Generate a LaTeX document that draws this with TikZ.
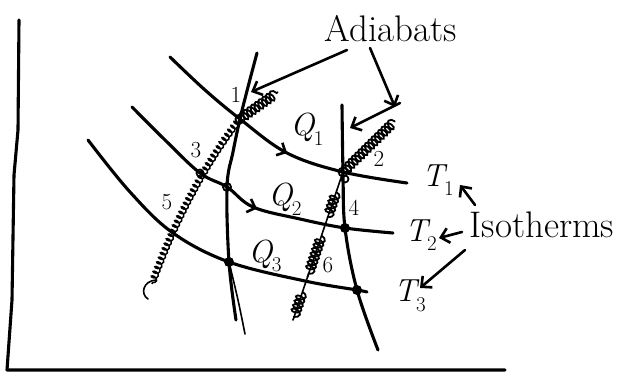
\documentclass[tikz,border=0pt]{standalone}
\usepackage{fontspec}
\usetikzlibrary{arrows.meta,decorations.pathmorphing,decorations.markings,calc}
\newcommand{\symsub}[2]{{\itshape #1}\kern-0.5pt\raisebox{-0.3em}{\fontsize{21}{21}\selectfont #2}}
\begin{document}
\begin{tikzpicture}[x=1pt,y=-1pt,
  curve/.style={line width=3.1pt, line cap=round, line join=round},
  thinline/.style={line width=1.6pt, line cap=round},
  irr/.style={line width=1.5pt, decorate, decoration={coil, amplitude=3.2pt, segment length=5pt, aspect=0.6}},
  irrwide/.style={line width=1.8pt, decorate, decoration={coil, amplitude=4.8pt, segment length=4.6pt, aspect=0.6}},
  numlbl/.style={inner sep=0pt, font=\fontsize{23}{23}\selectfont},
  qlbl/.style={inner sep=0pt, font=\fontsize{32}{32}\selectfont},
  tlbl/.style={inner sep=0pt, font=\fontsize{32}{32}\selectfont},
  bigword/.style={inner sep=0pt, font=\fontsize{37}{37}\selectfont},
  pointer/.style={line width=2.6pt, line cap=round, -{Straight Barb[length=8pt,width=15pt,line width=2.6pt]}},
  opendot/.style={circle, draw, line width=1.8pt, minimum size=9pt, inner sep=0pt},
  fulldot/.style={circle, fill, minimum size=10pt, inner sep=0pt},
  flowarrow/.style={postaction={decorate, decoration={markings, mark=at position #1 with {\arrow{Straight Barb[length=7pt,width=14pt,line width=2.6pt]}}}}}
]
\useasboundingbox (0,0) rectangle (622,377);

% axes
\draw[curve] (19,20) -- (18,130) -- (14,175) -- (12,300) -- (7,370) -- (505,370);

% key points
\coordinate (p1) at (240,119);
\coordinate (p2) at (343,172);
\coordinate (a1t2) at (227,187);
\coordinate (a1t3) at (229,262);
\coordinate (a2t2) at (345,228);
\coordinate (a2t3) at (357,290);
\coordinate (leftend) at (152,284);
\coordinate (lowend) at (293,320);

% isotherms
\draw[curve, flowarrow=0.55] plot[smooth, tension=0.6] coordinates {(170,57) (205,90) (p1) (287,153) (p2) (407,183)};
\draw[curve, flowarrow=0.54] plot[smooth, tension=0.6] coordinates {(132,107) (165,140) (200,173) (a1t2) (253,207) (300,219) (a2t2) (393,233)};
\draw[curve] plot[smooth, tension=0.6] coordinates {(88,140) (130,192) (173,233) (a1t3) (305,281) (a2t3) (367,292)};

% reversible adiabats
\draw[curve] plot[smooth, tension=0.6] coordinates {(257,53) (248,87) (p1) (233,152) (a1t2) (a1t3) (236,320)};
\draw[thinline] plot[smooth, tension=0.6] coordinates {(a1t3) (238,300) (245,334)};
\draw[curve] plot[smooth, tension=0.6] coordinates {(342,105) (p2) (a2t2) (a2t3) (378,350)};

% irreversible (coiled) paths
\draw[irr] (p1) .. controls (215,150) and (178,210) .. (leftend);
\draw[thinline] (156,280) .. controls (143,281) and (140,294) .. (148,299);
\draw[irrwide] (p1) -- (278,92);
\draw[irrwide] (p2) -- (395,121);
\draw[thinline] (p2) -- (lowend);
\draw[irrwide] ($(p2)!0.135!(lowend)$) -- ($(p2)!0.31!(lowend)$);
\draw[irrwide] ($(p2)!0.43!(lowend)$) -- ($(p2)!0.71!(lowend)$);
\draw[irrwide] ($(p2)!0.81!(lowend)$) -- ($(p2)!0.98!(lowend)$);

% dots
\node[opendot] (d1) at (p1) {};
\node[opendot] (d2) at (p2) {};
\node[opendot, minimum size=7pt] (d2b) at (345,179) {};
\node[opendot, minimum size=8pt] (d3) at (a1t2) {};
\node[opendot, minimum size=7pt] (d4) at (200,173) {};
\node[fulldot] (d5) at (a1t3) {};
\node[fulldot] (d6) at (a2t2) {};
\node[fulldot] (d7) at (a2t3) {};

% point labels
\node[numlbl] (n1) at (236,95) {1};
\node[numlbl] (n2) at (379,159) {2};
\node[numlbl] (n3) at (196,150) {3};
\node[numlbl] (n4) at (354,208) {4};
\node[numlbl] (n5) at (167,202) {5};
\node[numlbl] (n6) at (328,265) {6};

% heat labels
\node[qlbl] (q1) at (307,129) {\symsub{Q}{1}};
\node[qlbl] (q2) at (285,199) {\symsub{Q}{2}};
\node[qlbl] (q3) at (265,256) {\symsub{Q}{3}};

% temperature labels
\node[tlbl] (t1) at (438,180) {\symsub{T}{1}};
\node[tlbl] (t2) at (421,235) {\symsub{T}{2}};
\node[tlbl] (t3) at (410,296) {\symsub{T}{3}};

% words
\node[bigword] (adia) at (391,29) {Adiabats};
\node[bigword] (iso) at (542,225) {Isotherms};

% pointer arrows
\coordinate (ad1s) at (347,50);
\coordinate (ad1e) at (251,92);
\coordinate (ad2s) at (370,48);
\coordinate (ad2e) at (395,107);
\coordinate (ad3s) at (400,103);
\coordinate (ad3e) at (350,128);
\draw[pointer] (ad1s) -- (ad1e);
\draw[pointer] (ad2s) -- (ad2e);
\draw[pointer] (ad3s) -- (ad3e);

\coordinate (is1s) at (475,205);
\coordinate (is1e) at (460,185);
\coordinate (is2s) at (462,232);
\coordinate (is2e) at (439,238);
\coordinate (is3s) at (465,250);
\coordinate (is3e) at (420,288);
\draw[pointer] (is1s) -- (is1e);
\draw[pointer] (is2s) -- (is2e);
\draw[pointer] (is3s) -- (is3e);
\end{tikzpicture}
\end{document}
